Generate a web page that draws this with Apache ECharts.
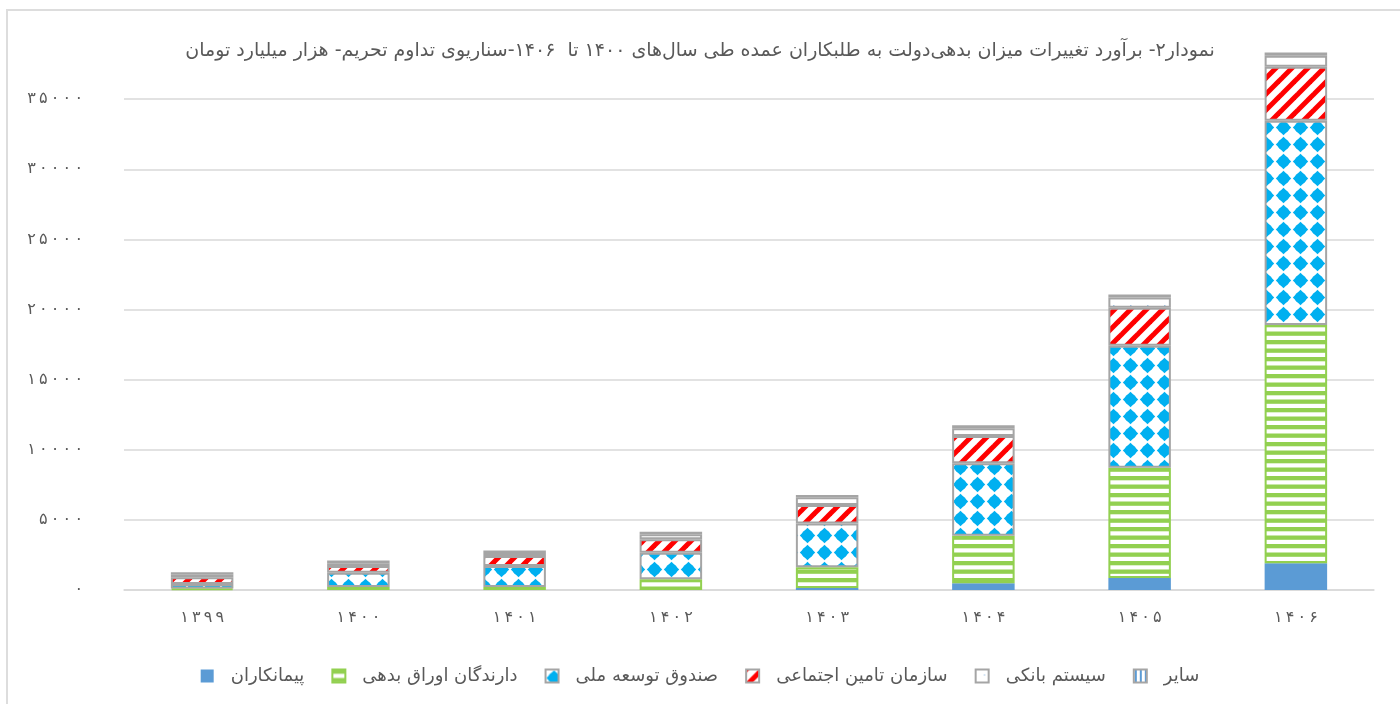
<!DOCTYPE html>
<html>
<head>
<meta charset="utf-8">
<script src="https://cdn.jsdelivr.net/npm/echarts@6/dist/echarts.min.js"></script>
<style>
  html, body { margin: 0; padding: 0; background: #fff; }
  #frame { position: absolute; left: 6px; top: 9px; width: 1400px; height: 700px;
           border-left: 2px solid #DDDDDD; border-top: 2px solid #DDDDDD; }
  #chart { position: absolute; left: 0; top: 0; width: 1400px; height: 704px; }
</style>
</head>
<body>
<div id="frame"></div>
<div id="chart"></div>
<script>
const years = ['۱۳۹۹', '۱۴۰۰', '۱۴۰۱', '۱۴۰۲', '۱۴۰۳', '۱۴۰۴', '۱۴۰۵', '۱۴۰۶'];
const contractors = [0, 0, 0, 0, 150, 480, 850, 1900];
const bondHolders = [100, 210, 210, 760, 1470, 3390, 7870, 16990];
const devFund = [330, 1020, 1500, 1900, 3130, 5160, 8690, 14560];
const socialSecurity = [475, 475, 710, 950, 1310, 1950, 2710, 3850];
const banking = [190, 210, 210, 360, 550, 550, 740, 790];
const others = [165, 190, 190, 190, 160, 210, 210, 240];

const titleText = 'نمودار۲- برآورد تغییرات میزان بدهی‌دولت به طلبکاران عمده طی سال‌های ۱۴۰۰ تا  ۱۴۰۶-سناریوی تداوم تحریم- هزار میلیارد تومان';

const faDigits = '۰۱۲۳۴۵۶۷۸۹';
function toFa(v) {
  return String(v).replace(/[0-9]/g, (d) => faDigits[+d]);
}
// the original font sets its digits wide apart
function spaced(s) {
  return s.split('').join('\u2009');
}

// small canvas tiles used as fill patterns
function makePattern(w, h, draw) {
  const c = document.createElement('canvas');
  c.width = w;
  c.height = h;
  const ctx = c.getContext('2d');
  ctx.fillStyle = '#fff';
  ctx.fillRect(0, 0, w, h);
  draw(ctx);
  return { image: c, repeat: 'repeat' };
}

const greenStripes = makePattern(4, 17, (ctx) => {
  ctx.fillStyle = '#92D050';
  ctx.fillRect(0, 0, 4, 4.3);
  ctx.fillRect(0, 8.5, 4, 4.3);
});

const diamonds = makePattern(17, 17, (ctx) => {
  ctx.fillStyle = '#00B0F0';
  ctx.beginPath();
  ctx.moveTo(8.5, 0.8);
  ctx.lineTo(16.2, 8.5);
  ctx.lineTo(8.5, 16.2);
  ctx.lineTo(0.8, 8.5);
  ctx.closePath();
  ctx.fill();
  ctx.beginPath();
  ctx.arc(8.5, 8.5, 5.8, 0, Math.PI * 2);
  ctx.fill();
});

const redDiagonal = makePattern(16, 16, (ctx) => {
  ctx.strokeStyle = '#FF0000';
  ctx.lineWidth = 5;
  [[-8, 8, 8, -8], [0, 16, 16, 0], [8, 24, 24, 8]].forEach((p) => {
    ctx.beginPath();
    ctx.moveTo(p[0], p[1]);
    ctx.lineTo(p[2], p[3]);
    ctx.stroke();
  });
});

const dots = makePattern(17, 10, (ctx) => {
  ctx.fillStyle = '#9DC3E6';
  ctx.fillRect(8, 5, 1.5, 1);
});

const vStripes = makePattern(5, 5, (ctx) => {
  ctx.fillStyle = '#5B9BD5';
  ctx.fillRect(1, 0, 2, 5);
});

const GRAY = '#A5A5A5';

function barSeries(name, data, color, borderColor, borderWidth) {
  return {
    name: name,
    type: 'bar',
    stack: 'debt',
    barWidth: '40%',
    data: data,
    itemStyle: {
      color: color,
      borderColor: borderColor,
      borderWidth: borderWidth
    },
    emphasis: { disabled: true }
  };
}

const chart = echarts.init(document.getElementById('chart'));

const option = {
  animation: false,
  textStyle: { fontFamily: 'DejaVu Sans' },
  title: {
    text: titleText,
    left: 'center',
    top: 37,
    textStyle: {
      fontSize: 19,
      fontWeight: 'normal',
      color: '#595959',
      fontFamily: 'DejaVu Sans'
    }
  },
  legend: {
    top: 662,
    left: 'center',
    icon: 'rect',
    itemWidth: 13,
    itemHeight: 13,
    itemGap: 27,
    textStyle: {
      fontSize: 18,
      color: '#595959',
      fontFamily: 'DejaVu Sans',
      padding: [0, 0, 0, 12]
    },
    data: ['پیمانکاران', 'دارندگان اوراق بدهی', 'صندوق توسعه ملی', 'سازمان تامین اجتماعی', 'سیستم بانکی', 'سایر']
  },
  grid: {
    left: 124,
    right: 26,
    top: 29,
    bottom: 114,
    containLabel: false
  },
  xAxis: {
    type: 'category',
    data: years,
    axisLine: { lineStyle: { color: '#D9D9D9', width: 1.5 } },
    axisTick: { show: false },
    axisLabel: {
      color: '#595959',
      fontSize: 16,
      margin: 20,
      formatter: (v) => spaced(v)
    }
  },
  yAxis: {
    type: 'value',
    min: 0,
    max: 40000,
    interval: 5000,
    axisLine: { show: false },
    axisTick: { show: false },
    axisLabel: {
      color: '#595959',
      fontSize: 16,
      margin: 41,
      showMaxLabel: false,
      formatter: (v) => spaced(toFa(v))
    },
    splitLine: {
      showMaxLine: false,
      lineStyle: { color: '#D9D9D9', width: 1.5 }
    }
  },
  series: [
    barSeries('پیمانکاران', contractors, '#5B9BD5', '#5B9BD5', 0),
    barSeries('دارندگان اوراق بدهی', bondHolders, greenStripes, '#92D050', 2),
    barSeries('صندوق توسعه ملی', devFund, diamonds, GRAY, 2),
    barSeries('سازمان تامین اجتماعی', socialSecurity, redDiagonal, GRAY, 2),
    barSeries('سیستم بانکی', banking, dots, GRAY, 2),
    barSeries('سایر', others, vStripes, GRAY, 2)
  ]
};

chart.setOption(option);

window.addEventListener('resize', () => {
  chart.resize();
});
</script>
</body>
</html>
